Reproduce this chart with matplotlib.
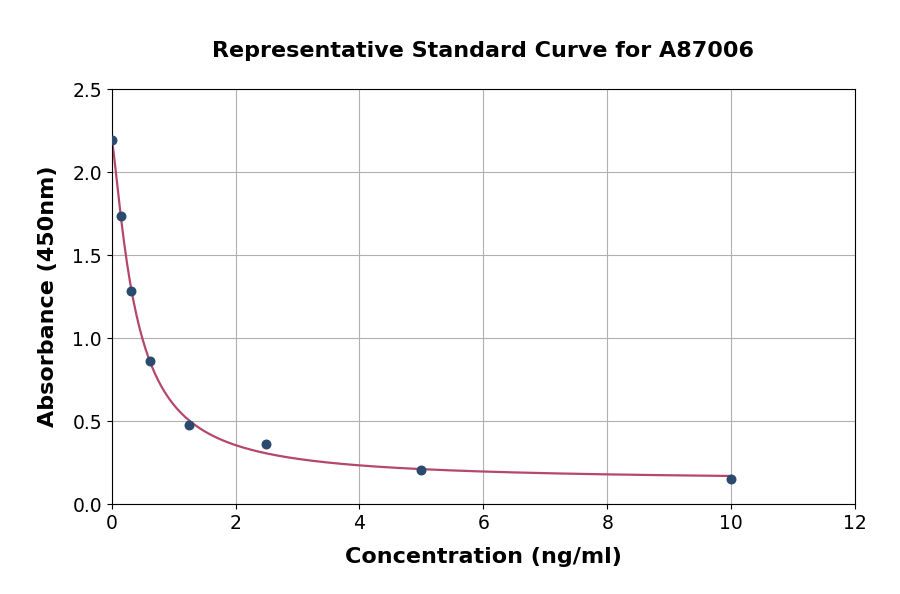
import numpy as np
import matplotlib.pyplot as plt

conc = np.array([0, 0.156, 0.3125, 0.625, 1.25, 2.5, 5, 10])
absorb = np.array([2.193, 1.733, 1.284, 0.862, 0.476, 0.361, 0.205, 0.150])

# 4PL fit: grid over slope/midpoint, top/bottom solved linearly
best = None
for b in np.linspace(0.5, 3, 126):
    for c in np.geomspace(0.05, 5, 200):
        f = 1 / (1 + (conc / c) ** b)
        M = np.column_stack([f, 1 - f])
        coef, *_ = np.linalg.lstsq(M, absorb, rcond=None)
        err = np.sum((M @ coef - absorb) ** 2)
        if best is None or err < best[0]:
            best = (err, b, c, coef)
_, b, c, (top, bottom) = best

xs = np.linspace(0, 10, 400)
ys = bottom + (top - bottom) / (1 + (xs / c) ** b)

fig, ax = plt.subplots(figsize=(9, 5.94), dpi=100)
ax.plot(xs, ys, color='#b5476b', lw=1.6, zorder=2)
ax.scatter(conc, absorb, color='#2a4a6e', s=38, zorder=3)

ax.set_xlim(0, 12)
ax.set_ylim(0, 2.5)
ax.set_xticks(np.arange(0, 13, 2))
ax.set_yticks(np.arange(0, 2.51, 0.5))
ax.grid(True, color='#b0b0b0', lw=0.8)
ax.set_axisbelow(True)
ax.tick_params(labelsize=13.5)

ax.set_title('Representative Standard Curve for A87006', fontsize=16, fontweight='bold', pad=23)
ax.set_xlabel('Concentration (ng/ml)', fontsize=16, fontweight='bold', labelpad=10)
ax.set_ylabel('Absorbance (450nm)', fontsize=16, fontweight='bold', labelpad=10)

plt.subplots_adjust(left=0.124, right=0.95, top=0.85, bottom=0.151)
fig.savefig('out.png', dpi=100)
